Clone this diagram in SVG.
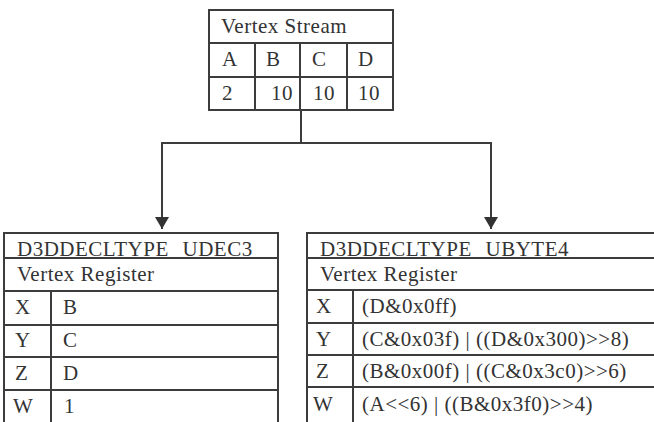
<svg xmlns="http://www.w3.org/2000/svg" width="654" height="422" viewBox="0 0 654 422" font-family="'Liberation Serif', 'DejaVu Serif', serif">
  <style>
    .grid { fill: none; stroke: #3c3c3c; stroke-width: 2; }
    .wire { fill: none; stroke: #3c3c3c; stroke-width: 2; }
    text { font-size: 21px; letter-spacing: 0.5px; fill: #333333; }
    .gap { word-spacing: 8px; }
  </style>
  <defs>
    <marker id="arrow" viewBox="0 0 12 14" refX="12" refY="7" markerWidth="12" markerHeight="14" markerUnits="userSpaceOnUse" orient="auto">
      <path d="M0,0 L12,7 L0,14 Z" fill="#333333"/>
    </marker>
  </defs>
  <rect width="654" height="422" fill="#ffffff"/>

  <!-- source stream layout -->
  <g id="vertex-stream">
    <rect class="grid" x="209" y="10" width="184" height="100"/>
    <line class="grid" x1="209" y1="43" x2="393" y2="43"/>
    <line class="grid" x1="209" y1="77" x2="393" y2="77"/>
    <line class="grid" x1="255" y1="43" x2="255" y2="110"/>
    <line class="grid" x1="300" y1="43" x2="300" y2="110"/>
    <line class="grid" x1="347" y1="43" x2="347" y2="110"/>
    <text x="221" y="33">Vertex Stream</text>
    <text x="222" y="66">A</text>
    <text x="266" y="66">B</text>
    <text x="312" y="66">C</text>
    <text x="358" y="66">D</text>
    <text x="222" y="100">2</text>
    <text x="271" y="100">10</text>
    <text x="313" y="100">10</text>
    <text x="358" y="100">10</text>
  </g>

  <!-- split into the two decoded forms -->
  <g id="connectors">
    <polyline class="wire" points="301,110 301,143 162,143 162,229" marker-end="url(#arrow)"/>
    <polyline class="wire" points="301,143 491,143 491,229" marker-end="url(#arrow)"/>
  </g>

  <!-- UDEC3 register mapping -->
  <g id="udec3">
    <polyline class="grid" points="4,422 4,233 278,233 278,422"/>
    <line class="grid" x1="4" y1="258" x2="278" y2="258"/>
    <line class="grid" x1="4" y1="291" x2="278" y2="291"/>
    <line class="grid" x1="4" y1="325" x2="278" y2="325"/>
    <line class="grid" x1="4" y1="357" x2="278" y2="357"/>
    <line class="grid" x1="4" y1="390" x2="278" y2="390"/>
    <line class="grid" x1="51" y1="291" x2="51" y2="422"/>
    <text class="gap" x="17" y="256">D3DDECLTYPE UDEC3</text>
    <text x="17" y="281">Vertex Register</text>
    <text x="15" y="314">X</text>
    <text x="63" y="314">B</text>
    <text x="15" y="347">Y</text>
    <text x="63" y="347">C</text>
    <text x="15" y="380">Z</text>
    <text x="63" y="380">D</text>
    <text x="13" y="413">W</text>
    <text x="64" y="413">1</text>
  </g>

  <!-- UBYTE4 register mapping -->
  <g id="ubyte4">
    <polyline class="grid" points="655,233 307,233 307,422"/>
    <line class="grid" x1="307" y1="258" x2="655" y2="258"/>
    <line class="grid" x1="307" y1="290" x2="655" y2="290"/>
    <line class="grid" x1="307" y1="323" x2="655" y2="323"/>
    <line class="grid" x1="307" y1="355" x2="655" y2="355"/>
    <line class="grid" x1="307" y1="387" x2="655" y2="387"/>
    <line class="grid" x1="353" y1="290" x2="353" y2="422"/>
    <text class="gap" x="320" y="256">D3DDECLTYPE UBYTE4</text>
    <text x="320" y="281">Vertex Register</text>
    <text x="316" y="313">X</text>
    <text x="362" y="313">(D&amp;0x0ff)</text>
    <text x="316" y="346">Y</text>
    <text x="362" y="346">(C&amp;0x03f) | ((D&amp;0x300)&gt;&gt;8)</text>
    <text x="316" y="378">Z</text>
    <text x="362" y="378">(B&amp;0x00f) | ((C&amp;0x3c0)&gt;&gt;6)</text>
    <text x="313" y="411">W</text>
    <text x="362" y="411">(A&lt;&lt;6) | ((B&amp;0x3f0)&gt;&gt;4)</text>
  </g>
</svg>
